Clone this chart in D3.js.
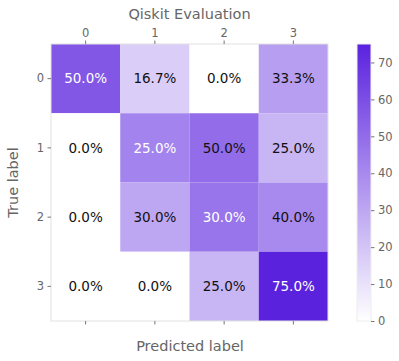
<!DOCTYPE html>
<html>
<head>
<meta charset="utf-8">
<script src="https://cdn.jsdelivr.net/npm/d3@7"></script>
<style>
body { margin: 0; background: #fff; }
text { font-family: "DejaVu Sans", sans-serif; }
</style>
</head>
<body>
<svg width="399" height="361"></svg>
<script>
var classes = ['0', '1', '2', '3'];
// label shown in each cell (percent)
var labels = [
  [50.0, 16.7, 0.0, 33.3],
  [0.0, 25.0, 50.0, 25.0],
  [0.0, 30.0, 30.0, 40.0],
  [0.0, 0.0, 25.0, 75.0]
];
// shade value of each cell
var shades = [
  [57, 17, 0, 33],
  [0, 42, 50, 25],
  [0, 30, 47, 40],
  [0, 0, 25, 75]
];
var barTicks = [0, 10, 20, 30, 40, 50, 60, 70];

var svg = d3.select("svg");
var marge = { top: 44, left: 51 };
var size = 277;
var g = svg.append("g").attr("transform", "translate(" + marge.left + "," + marge.top + ")");

var x = d3.scaleBand().domain(classes).range([0, size]);
var y = d3.scaleBand().domain(classes).range([0, size]);
var color = d3.scaleLinear().domain([0, 75]).range(["#ffffff", "#5b22de"]);

var cells = [];
labels.forEach(function (row, i) {
  row.forEach(function (v, j) {
    cells.push({ r: classes[i], c: classes[j], v: v, s: shades[i][j], diag: i === j });
  });
});

g.selectAll("rect.cell")
  .data(cells)
  .enter()
  .append("rect")
  .attr("class", "cell")
  .attr("x", function (d) { return x(d.c); })
  .attr("y", function (d) { return y(d.r); })
  .attr("width", x.bandwidth())
  .attr("height", y.bandwidth())
  .attr("fill", function (d) { return color(d.s); });

g.selectAll("text.val")
  .data(cells)
  .enter()
  .append("text")
  .attr("class", "val")
  .attr("x", function (d) { return x(d.c) + x.bandwidth() / 2; })
  .attr("y", function (d) { return y(d.r) + y.bandwidth() / 2; })
  .attr("dy", "0.36em")
  .attr("text-anchor", "middle")
  .attr("font-size", 13.5)
  .attr("fill", function (d) { return d.diag ? "#ffffff" : "#111111"; })
  .text(function (d) { return d.v.toFixed(1) + "%"; });

// frame
g.append("rect")
  .attr("width", size).attr("height", size)
  .attr("fill", "none").attr("stroke", "#e2e2e2");

function styleAxis(sel, showText) {
  sel.select(".domain").remove();
  sel.selectAll(".tick line").attr("stroke", "#777");
  sel.selectAll(".tick text").attr("fill", "#666").attr("font-size", 11.5)
    .attr("font-family", "DejaVu Sans, sans-serif");
  if (!showText) sel.selectAll(".tick text").remove();
}

g.append("g").call(d3.axisTop(x).tickSize(3.5).tickPadding(3.5)).call(styleAxis, true);
g.append("g").attr("transform", "translate(0," + size + ")")
  .call(d3.axisBottom(x).tickSize(3.5)).call(styleAxis, false);
g.append("g").call(d3.axisLeft(y).tickSize(3.5).tickPadding(3.5)).call(styleAxis, true);

// titles
svg.append("text").attr("x", marge.left + size / 2).attr("y", 19)
  .attr("text-anchor", "middle").attr("font-size", 14.5).attr("fill", "#666")
  .text("Qiskit Evaluation");
svg.append("text").attr("x", marge.left + size / 2 + 0.5).attr("y", 351)
  .attr("text-anchor", "middle").attr("font-size", 14.5).attr("fill", "#666")
  .text("Predicted label");
svg.append("text")
  .attr("transform", "translate(18," + (marge.top + size / 2) + ") rotate(-90)")
  .attr("text-anchor", "middle").attr("font-size", 14.5).attr("fill", "#666")
  .text("True label");

// colorbar
var barX = 357, barW = 14;
var cb = d3.scaleLinear().domain([0, 75]).range([marge.top + size, marge.top]);
var defs = svg.append("defs");
var grad = defs.append("linearGradient").attr("id", "cbg")
  .attr("x1", 0).attr("y1", 1).attr("x2", 0).attr("y2", 0);
grad.append("stop").attr("offset", "0%").attr("stop-color", color(0));
grad.append("stop").attr("offset", "100%").attr("stop-color", color(75));
svg.append("rect").attr("x", barX).attr("y", marge.top)
  .attr("width", barW).attr("height", size).attr("fill", "url(#cbg)");
svg.append("rect").attr("x", barX).attr("y", marge.top)
  .attr("width", barW).attr("height", size).attr("fill", "none").attr("stroke", "#eeeeee");
svg.append("g").attr("transform", "translate(" + (barX + barW) + ",0)")
  .call(d3.axisRight(cb).tickValues(barTicks).tickSize(3.5).tickPadding(3.5))
  .call(styleAxis, true);
</script>
</body>
</html>
